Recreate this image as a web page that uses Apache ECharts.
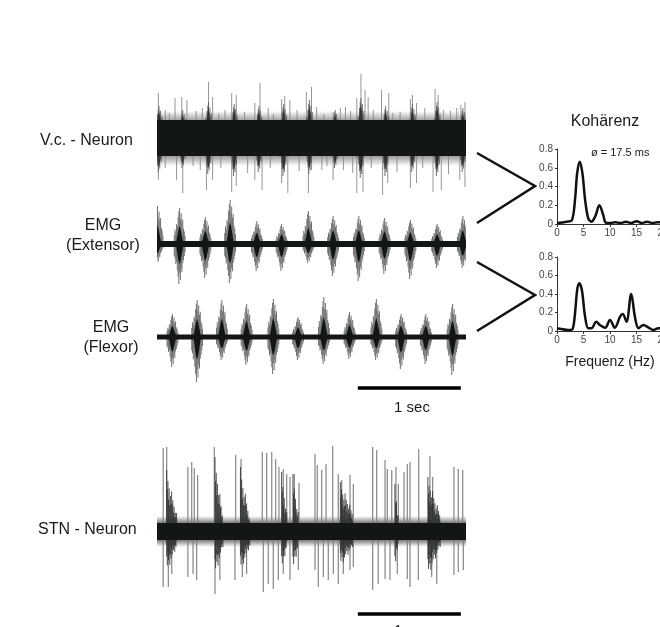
<!DOCTYPE html>
<html><head><meta charset="utf-8">
<script src="https://cdn.jsdelivr.net/npm/echarts@6/dist/echarts.min.js"></script>
<style>html,body{margin:0;padding:0;background:#fff}#c{width:660px;height:627px}</style>
</head><body><div id="c"></div>
<script>
// ---------------- DATA ----------------
const traceLabels = ['V.c. - Neuron', 'EMG\n(Extensor)', 'EMG\n(Flexor)', 'STN - Neuron'];
const scaleBarSec = [1.95, 2.95];          // 1 sec scale bar (s)
const scaleLabel = '1 sec';

// V.c. neuron (time s, amplitude a.u.)
const vcCore = [18, -18];
const vcHalo = [27, -28];
const vcBursts = [[0.02,32,-34],[0.25,28,-30],[0.50,36,-36],[0.75,34,-38],[0.99,32,-34],[1.23,34,-38],[1.48,38,-36],[1.73,28,-30],[1.98,40,-40],[2.22,32,-38],[2.48,34,-34],[2.72,36,-38],[2.97,30,-34]];
const vcSpikes = [[0.013,45],[0.08,28],[0.12,25],[0.175,40],[0.24,41],[0.29,38],[0.38,27],[0.44,30],[0.50,56],[0.54,41],[0.60,25],[0.66,28],[0.725,45],[0.77,43],[0.85,26],[0.95,35],[1.00,55],[1.08,30],[1.13,24],[1.21,39],[1.24,42],[1.29,38],[1.36,28],[1.45,46],[1.50,51],[1.55,31],[1.62,24],[1.71,26],[1.78,30],[1.83,31],[1.88,27],[1.94,40],[1.98,64],[2.02,48],[2.05,41],[2.10,28],[2.18,48],[2.25,45],[2.29,25],[2.36,26],[2.46,39],[2.48,43],[2.52,35],[2.60,30],[2.70,49],[2.73,43],[2.78,28],[2.85,27],[2.91,30],[2.95,33],[2.99,36],
  [0.013,-42],[0.08,-30],[0.19,-42],[0.25,-55],[0.35,-28],[0.42,-32],[0.48,-52],[0.54,-42],[0.62,-30],[0.725,-54],[0.77,-48],[0.88,-35],[0.95,-42],[1.02,-52],[1.10,-30],[1.21,-45],[1.27,-55],[1.38,-33],[1.47,-55],[1.50,-32],[1.60,-32],[1.65,-28],[1.71,-42],[1.81,-32],[1.90,-35],[1.94,-55],[2.00,-54],[2.08,-30],[2.19,-57],[2.24,-45],[2.33,-34],[2.46,-50],[2.52,-45],[2.58,-30],[2.68,-54],[2.76,-52],[2.83,-36],[2.94,-42],[2.99,-49]];

// EMG extensor / flexor bursts [time s, up, down]
const extCore = [3, -3];
const extBursts = [[0.005,38,-19],[0.22,36,-40],[0.47,27,-34],[0.71,44,-39],[0.97,23,-27],[1.21,20,-27],[1.47,33,-19],[1.71,28,-32],[1.96,28,-37],[2.21,26,-30],[2.46,24,-35],[2.72,20,-24],[2.97,28,-24]];
const flxCore = [2.5, -2.5];
const flxBursts = [[0.15,23,-30],[0.39,37,-45],[0.63,37,-23],[0.87,33,-28],[1.13,38,-37],[1.37,20,-23],[1.62,40,-27],[1.87,25,-22],[2.13,38,-23],[2.37,23,-32],[2.61,23,-27],[2.87,33,-38]];

// STN neuron
const stnCore = [9, -8];
const stnHalo = [16, -15];
const stnDecays = [[0.094,0.19,62,19,-41,-15],[0.563,0.64,75,15,-45,-15],[0.81,0.90,65,15,-40,-15],[1.21,1.26,60,20,-40,-15],[1.32,1.37,58,20,-41,-15],[1.78,1.90,50,20,-35,-15],[2.31,2.34,48,20,-40,-18],[2.63,2.75,55,18,-45,-15]];
const stnSpikes = [[0.06,84],[0.094,85],[0.30,65],[0.337,70],[0.362,64],[0.395,57],[0.556,85],[0.764,77],[0.816,73],[1.022,80],[1.065,79],[1.114,80],[1.152,73],[1.184,65],[1.226,63],[1.259,58],[1.291,55],[1.333,58],[1.379,49],[1.534,78],[1.556,67],[1.599,62],[1.641,68],[1.706,86],[1.760,58],[1.793,52],[1.874,57],[1.906,48],[2.094,85],[2.133,82],[2.214,72],[2.236,63],[2.279,62],[2.320,65],[2.343,48],[2.398,60],[2.430,68],[2.456,70],[2.541,83],[2.650,76],[2.676,55],[2.883,65],[2.925,63],[2.968,62],
  [0.06,-55],[0.11,-55],[0.143,-42],[0.30,-45],[0.35,-42],[0.385,-48],[0.563,-62],[0.61,-48],[0.757,-48],[0.828,-45],[0.87,-42],[1.032,-60],[1.08,-52],[1.129,-57],[1.178,-48],[1.226,-42],[1.291,-48],[1.372,-38],[1.534,-38],[1.566,-55],[1.615,-45],[1.663,-48],[1.712,-42],[1.760,-52],[1.809,-42],[1.874,-38],[1.906,-35],[2.094,-58],[2.148,-52],[2.214,-47],[2.262,-48],[2.333,-42],[2.430,-47],[2.456,-55],[2.537,-48],[2.667,-45],[2.716,-52],[2.883,-43],[2.925,-40],[2.974,-38]];

// Coherence spectra
const cohTitle = 'Kohärenz';
const cohNote = 'ø = 17.5 ms';
const cohXLabel = 'Frequenz (Hz)';
const cohTopHz = [0,1.8,2.8,3.4,3.8,4.3,4.8,5.3,5.9,6.5,7.2,8.0,8.7,9.2,10,11,12,13,14,15,16,17,18,19,20];
const cohTop   = [0.01,0.025,0.04,0.26,0.54,0.665,0.54,0.26,0.06,0.025,0.08,0.2,0.1,0.015,0.01,0.02,0.01,0.025,0.01,0.03,0.01,0.025,0.01,0.02,0.015];
const cohBotHz = [0,2.5,3.0,3.4,3.8,4.2,4.7,5.3,5.9,6.5,7.4,8.1,9.1,10,10.9,11.9,12.4,13.1,14.0,14.7,15.4,16.3,17.2,18.2,19.1,20];
const cohBot   = [0.03,0.01,0.03,0.19,0.44,0.515,0.44,0.155,0.03,0.03,0.1,0.065,0.035,0.12,0.035,0.155,0.185,0.1,0.40,0.155,0.03,0.065,0.04,0.01,0.03,0.03];

// ---------------- RENDER ----------------
const FONT = '"Liberation Sans", Arial, Helvetica, sans-serif';
const DARK = '#131713';
const chart = echarts.init(document.getElementById('c'), null, {renderer: 'canvas'});

function lineEl(a, b, stroke, w, op) {
  return {type: 'line', shape: {x1: a[0], y1: a[1], x2: b[0], y2: b[1]}, style: {stroke: stroke, lineWidth: w, opacity: op == null ? 1 : op}};
}
function spikeRender(color, w, op) {
  return function (p, api) {
    const t = api.value(0), v = api.value(1);
    return lineEl(api.coord([t, 0]), api.coord([t, v]), color, w, op);
  };
}
function bandRender(color) {
  return function (p, api) {
    const a = api.coord([0, api.value(0)]), b = api.coord([3, api.value(1)]);
    return {type: 'rect', shape: {x: a[0], y: a[1], width: b[0] - a[0], height: b[1] - a[1]}, style: {fill: color}};
  };
}
function haloRender(rgb) {
  return function (p, api) {
    const a = api.coord([0, api.value(0)]), b = api.coord([3, api.value(1)]);
    const g = new echarts.graphic.LinearGradient(0, 0, 0, 1, [
      {offset: 0, color: 'rgba(' + rgb + ',0)'},
      {offset: 0.25, color: 'rgba(' + rgb + ',0.75)'},
      {offset: 0.5, color: 'rgba(' + rgb + ',1)'},
      {offset: 0.75, color: 'rgba(' + rgb + ',0.75)'},
      {offset: 1, color: 'rgba(' + rgb + ',0)'}]);
    return {type: 'rect', shape: {x: a[0], y: a[1], width: b[0] - a[0], height: b[1] - a[1]}, style: {fill: g}};
  };
}
const PU = [0.25, 0.4, 0.33, 0.55, 0.5, 0.75, 0.9, 1, 0.7, 0.85, 0.6, 0.68, 0.42, 0.35, 0.22];
const PD = [0.3, 0.36, 0.5, 0.45, 0.66, 0.82, 1, 0.72, 0.9, 0.62, 0.7, 0.48, 0.4, 0.3, 0.2];
function burstRender(dt, outer, inner, innerFrac, op) {
  return function (p, api) {
    const tc = api.value(0), up = api.value(1), dn = api.value(2);
    const ch = [];
    const n = PU.length;
    for (let k = 0; k < n; k++) {
      const t = tc + (k - (n - 1) / 2) * dt;
      ch.push(lineEl(api.coord([t, up * PU[k]]), api.coord([t, dn * PD[k]]), outer, 1, op));
    }
    const pts = [[tc - dt * 5, 0], [tc - dt * 1.5, up * innerFrac * 0.8], [tc, up * innerFrac], [tc + dt * 1.5, up * innerFrac * 0.75], [tc + dt * 5, 0],
                 [tc + dt * 1.5, dn * innerFrac * 0.8], [tc, dn * innerFrac], [tc - dt * 1.5, dn * innerFrac * 0.85]].map(q => api.coord(q));
    ch.push({type: 'polygon', shape: {points: pts}, style: {fill: inner}});
    return {type: 'group', children: ch};
  };
}
const PS = [1, 0.72, 0.9, 0.6, 0.85, 0.55, 0.78, 0.65];
function decayRender(color) {
  return function (p, api) {
    const t0 = api.value(0), t1 = api.value(1);
    const u0 = api.value(2), u1 = api.value(3), d0 = api.value(4), d1 = api.value(5);
    const n = Math.max(4, Math.round((t1 - t0) / 0.0055));
    const ch = [];
    for (let k = 0; k < n; k++) {
      const f = k / (n - 1), t = t0 + (t1 - t0) * f;
      const u = (u0 + (u1 - u0) * f) * PS[k % PS.length];
      const d = (d0 + (d1 - d0) * f) * PS[(k + 3) % PS.length];
      ch.push(lineEl(api.coord([t, u]), api.coord([t, d]), color, 1, 0.85));
    }
    return {type: 'group', children: ch};
  };
}

const grids = [
  {left: 157, top: 70, width: 309, height: 130},   // 0 V.c.
  {left: 157, top: 195, width: 309, height: 100},  // 1 Ext
  {left: 157, top: 290, width: 309, height: 100},  // 2 Flx
  {left: 157, top: 383, width: 309, height: 10},   // 3 scale bar
  {left: 157, top: 430, width: 309, height: 170},  // 4 STN
  {left: 157, top: 609, width: 309, height: 10},   // 5 STN scale bar
  {left: 557, top: 149, width: 106, height: 75},   // 6 coh top
  {left: 557, top: 257, width: 106, height: 74}    // 7 coh bottom
].map(g => Object.assign(g, {outerBoundsMode: 'none', containLabel: false}));
const yr = [[-62, 68], [-51, 49], [-53, 47], [0, 1], [-68, 102], [0, 1]];
const xAxes = [], yAxes = [];
for (let i = 0; i < 6; i++) {
  xAxes.push({type: 'value', gridIndex: i, min: 0, max: 3, show: false});
  yAxes.push({type: 'value', gridIndex: i, min: yr[i][0], max: yr[i][1], show: false});
}
for (let i = 6; i < 8; i++) {
  xAxes.push({type: 'value', gridIndex: i, min: 0, max: 20, interval: 5,
    axisLine: {show: true, onZero: false, lineStyle: {color: '#333', width: 1}},
    axisTick: {show: true, length: 3, lineStyle: {color: '#333'}},
    axisLabel: {fontSize: 10, color: '#444', margin: 4, fontFamily: FONT, hideOverlap: false},
    splitLine: {show: false}});
  yAxes.push({type: 'value', gridIndex: i, min: 0, max: 0.8, interval: 0.2,
    axisLine: {show: true, lineStyle: {color: '#333', width: 1}},
    axisTick: {show: true, length: 2, lineStyle: {color: '#333'}},
    axisLabel: {fontSize: 10, color: '#444', margin: 4, fontFamily: FONT, formatter: v => v === 0 ? '0' : v.toFixed(1)},
    splitLine: {show: false}});
}

function custom(idx, data, render, z) {
  return {type: 'custom', xAxisIndex: idx, yAxisIndex: idx, data: data, renderItem: render, clip: true, silent: true, z: z || 2, animation: false};
}
const series = [
  custom(0, [vcHalo], haloRender('70,72,70'), 1),
  custom(0, vcSpikes, spikeRender('#8a8a8a', 1, 0.9), 2),
  custom(0, vcBursts, burstRender(0.007, '#555855', '#2f332f', 0.85, 0.85), 3),
  custom(0, [vcCore], bandRender(DARK), 4),
  custom(1, extBursts, burstRender(0.0075, '#6e706e', DARK, 0.5, 1), 3),
  custom(1, [extCore], bandRender(DARK), 4),
  custom(2, flxBursts, burstRender(0.0075, '#6e706e', DARK, 0.5, 1), 3),
  custom(2, [flxCore], bandRender(DARK), 4),
  {type: 'line', xAxisIndex: 3, yAxisIndex: 3, data: [[scaleBarSec[0], 0.5], [scaleBarSec[1], 0.5]], symbol: 'none', lineStyle: {color: '#000', width: 3.5}, silent: true, animation: false},
  custom(4, [stnHalo], haloRender('60,62,60'), 1),
  custom(4, stnSpikes, spikeRender('#7e7e7e', 1.2, 0.95), 2),
  custom(4, stnDecays, decayRender('#2a2e2a'), 3),
  custom(4, [stnCore], bandRender(DARK), 4),
  {type: 'line', xAxisIndex: 5, yAxisIndex: 5, data: [[scaleBarSec[0], 0.5], [scaleBarSec[1], 0.5]], symbol: 'none', lineStyle: {color: '#000', width: 3.5}, silent: true, animation: false},
  {type: 'line', xAxisIndex: 6, yAxisIndex: 6, data: cohTopHz.map((f, i) => [f, cohTop[i]]), symbol: 'none', smooth: 0.35, lineStyle: {color: '#111', width: 2.5}, animation: false},
  {type: 'line', xAxisIndex: 7, yAxisIndex: 7, data: cohBotHz.map((f, i) => [f, cohBot[i]]), symbol: 'none', smooth: 0.35, lineStyle: {color: '#111', width: 2.5}, animation: false}
];

function txt(x, y, s, size, align, extra) {
  return Object.assign({type: 'text', x: x, y: y, style: {text: s, font: size + 'px ' + FONT, fill: '#1a1a1a', textAlign: align || 'left', textVerticalAlign: 'middle', lineHeight: 20}}, extra || {});
}
const graphic = [
  txt(40, 141, traceLabels[0], 16, 'left'),
  txt(103, 236, traceLabels[1], 16, 'center'),
  txt(111, 338, traceLabels[2], 16, 'center'),
  txt(38, 530, traceLabels[3], 16, 'left'),
  txt(412, 408, scaleLabel, 15, 'center'),
  {type: 'text', x: 412, y: 623, style: {text: scaleLabel, font: '15px ' + FONT, fill: '#1a1a1a', textAlign: 'center', textVerticalAlign: 'top'}},
  txt(605, 122, cohTitle, 16, 'center'),
  txt(591, 153, cohNote, 11, 'left'),
  txt(610, 362, cohXLabel, 14, 'center'),
  {type: 'polyline', shape: {points: [[477, 153], [535, 186], [477, 223]]}, style: {stroke: '#111', lineWidth: 2.5, fill: null}},
  {type: 'polyline', shape: {points: [[477, 262], [535, 295], [477, 331]]}, style: {stroke: '#111', lineWidth: 2.5, fill: null}}
];

chart.setOption({animation: false, backgroundColor: '#fff', grid: grids, xAxis: xAxes, yAxis: yAxes, series: series, graphic: graphic});
</script>
</body></html>
